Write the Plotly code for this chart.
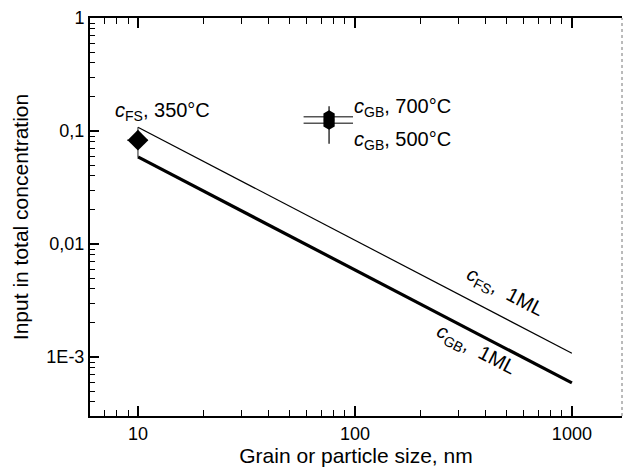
import plotly.graph_objects as go

# Data
size_line = [10, 1000]
c_fs_1ml = [0.108, 0.00108]
c_gb_1ml = [0.059, 0.00059]

fs_x = [10]
fs_y = [0.083]
fs_err_plus = [0.025]
fs_err_minus = [0.024]
fs_xerr = [1.1]

gb_x = [76, 76]
gb_y = [0.134, 0.117]
gb_labels = ["700°C", "500°C"]
gb_err_plus = [0.032, 0.0]
gb_err_minus = [0.0, 0.04]
gb_xerr_plus = [22, 22]
gb_xerr_minus = [18, 18]

x_ticks = [10, 100, 1000]
x_ticktext = ["10", "100", "1000"]
x_minor = [7, 8, 9, 20, 30, 40, 50, 60, 70, 80, 90, 200, 300, 400, 500, 600, 700, 800, 900]
y_ticks = [0.001, 0.01, 0.1, 1]
y_ticktext = ["1E-3", "0,01", "0,1", "1"]
y_minor = [0.0004, 0.0005, 0.0006, 0.0007, 0.0008, 0.0009,
           0.002, 0.003, 0.004, 0.005, 0.006, 0.007, 0.008, 0.009,
           0.02, 0.03, 0.04, 0.05, 0.06, 0.07, 0.08, 0.09,
           0.2, 0.3, 0.4, 0.5, 0.6, 0.7, 0.8, 0.9]

FONT = "Liberation Sans, Arial, sans-serif"
LBL = dict(size=20, family=FONT, color="black")

fig = go.Figure()
fig.add_trace(go.Scatter(x=size_line, y=c_fs_1ml, mode="lines",
                         line=dict(color="black", width=1.2), showlegend=False))
fig.add_trace(go.Scatter(x=size_line, y=c_gb_1ml, mode="lines",
                         line=dict(color="black", width=3.2), showlegend=False))
fig.add_trace(go.Scatter(x=fs_x, y=fs_y, mode="markers",
                         marker=dict(symbol="diamond", size=16, color="black"),
                         error_y=dict(type="data", array=fs_err_plus, arrayminus=fs_err_minus,
                                      color="#444", thickness=1.2, width=0),
                         error_x=dict(type="data", array=fs_xerr, color="#444", thickness=1.2, width=0),
                         showlegend=False))
fig.add_trace(go.Scatter(x=gb_x, y=gb_y, mode="markers",
                         marker=dict(symbol="hexagon", size=13, color="black"),
                         error_y=dict(type="data", array=gb_err_plus, arrayminus=gb_err_minus,
                                      color="black", thickness=1.2, width=0),
                         error_x=dict(type="data", array=gb_xerr_plus, arrayminus=gb_xerr_minus,
                                      color="#555", thickness=1.5, width=0),
                         showlegend=False))

fig.add_annotation(x=0.885, y=-0.823, xref="x", yref="y", text="<i>c</i><sub>FS</sub>, 350°C",
                   showarrow=False, xanchor="left", font=LBL)
gb_label_y = [-0.788, -1.08]
for ly, lab in zip(gb_label_y, gb_labels):
    fig.add_annotation(x=1.986, y=ly, xref="x", yref="y",
                       text="<i>c</i><sub>GB</sub>, " + lab, showarrow=False, xanchor="left",
                       font=LBL)

fig.add_annotation(x=2.69, y=-2.43, xref="x", yref="y", text="<i>c</i><sub>FS</sub>,  1ML",
                   showarrow=False, textangle=27.5, font=LBL)
fig.add_annotation(x=2.56, y=-2.94, xref="x", yref="y", text="<i>c</i><sub>GB</sub>,  1ML",
                   showarrow=False, textangle=27.5, font=LBL)

fig.add_shape(type="line", xref="paper", yref="paper", x0=1, x1=1, y0=0, y1=1,
              line=dict(color="#777", width=1, dash="dot"))

fig.update_xaxes(type="log", range=[0.779, 3.231], tickvals=x_ticks, ticktext=x_ticktext,
                 ticks="inside", ticklen=10, tickwidth=1.5, tickcolor="black",
                 showline=True, linecolor="black", linewidth=2, mirror="ticks",
                 showgrid=False, zeroline=False,
                 minor=dict(tickvals=x_minor, ticks="inside", ticklen=6, tickwidth=1.2,
                            tickcolor="black", showgrid=False),
                 tickfont=dict(size=18, family=FONT, color="black"),
                 title=dict(text="Grain or particle size, nm", font=dict(size=21, family=FONT, color="black"),
                            standoff=6))
fig.update_yaxes(type="log", range=[-3.522, 0], tickvals=y_ticks, ticktext=y_ticktext,
                 ticks="inside", ticklen=9, tickwidth=1.5, tickcolor="black",
                 showline=True, linecolor="black", linewidth=2, mirror=False,
                 showgrid=False, zeroline=False,
                 minor=dict(tickvals=y_minor, ticks="inside", ticklen=5, tickwidth=1.2,
                            tickcolor="black", showgrid=False),
                 tickfont=dict(size=18, family=FONT, color="black"),
                 title=dict(text="Input in total concentration", font=dict(size=21, family=FONT, color="black"),
                            standoff=12))

fig.update_layout(width=623, height=471, margin=dict(l=90, r=1, t=18, b=55),
                  plot_bgcolor="white", paper_bgcolor="white", showlegend=False)

fig.write_html("out.html")
